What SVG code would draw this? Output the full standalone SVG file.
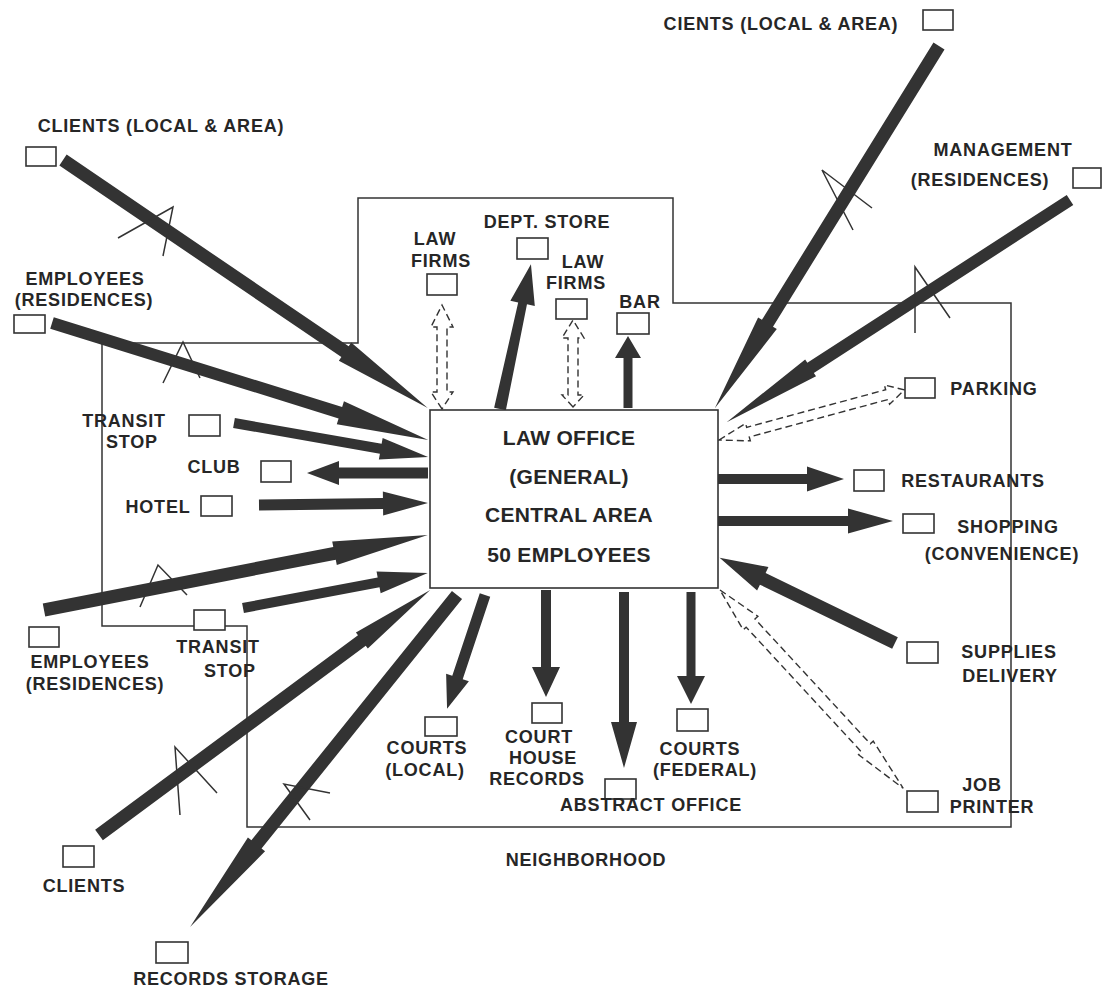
<svg xmlns="http://www.w3.org/2000/svg" width="1102" height="989" viewBox="0 0 1102 989">
<style>
.lbl{font-family:"Liberation Sans",Arial,sans-serif;font-weight:bold;font-size:18px;letter-spacing:0.8px;fill:#262626;text-anchor:middle}
.big{font-size:21px;letter-spacing:0.3px}
.box{fill:#fff;stroke:#333;stroke-width:1.6}
.arr{fill:#333}
.dash{fill:#fff;stroke:#333;stroke-width:1.4;stroke-dasharray:7 4}
.pen{fill:none;stroke:#333;stroke-width:1.5}
.hood{fill:none;stroke:#333;stroke-width:1.5}
</style>
<rect width="1102" height="989" fill="#fff"/>
<polygon id="neighborhood-outline" class="hood" points="358,198 673,198 673,303 1011,303 1011,827 247,827 247,626 102,626 102,343 358,343"/>
<g id="connectors">
<path class="arr" transform="translate(63,160) rotate(34.2)" d="M0,-6.5 L341,-6.5 L341,-11 L441,0 L341,11 L341,6.5 L0,6.5Z"/>
<path class="arr" transform="translate(52,323) rotate(17.28)" d="M0,-6 L302,-6 L302,-12 L394,0 L302,12 L302,6 L0,6Z"/>
<path class="arr" transform="translate(234,423) rotate(9.94)" d="M0,-5 L149,-5 L149,-11 L197,0 L149,11 L149,5 L0,5Z"/>
<path class="arr" transform="translate(428,473) rotate(180)" d="M0,-5.5 L89,-5.5 L89,-12 L121,0 L89,12 L89,5.5 L0,5.5Z"/>
<path class="arr" transform="translate(259,505) rotate(-0.68)" d="M0,-5.5 L124,-5.5 L124,-12 L169,0 L124,12 L124,5.5 L0,5.5Z"/>
<path class="arr" transform="translate(44,610) rotate(-11.05)" d="M0,-6.5 L296,-6.5 L296,-12 L391,0 L296,12 L296,6.5 L0,6.5Z"/>
<path class="arr" transform="translate(243,608) rotate(-10.71)" d="M0,-5 L138,-5 L138,-11 L188,0 L138,11 L138,5 L0,5Z"/>
<path class="arr" transform="translate(99,835) rotate(-36.5)" d="M0,-6.5 L327,-6.5 L327,-10 L412,0 L327,10 L327,6.5 L0,6.5Z"/>
<path class="arr" transform="translate(457,595) rotate(128.8)" d="M0,-6.5 L320,-6.5 L320,-11 L426,0 L320,11 L320,6.5 L0,6.5Z"/>
<path class="arr" transform="translate(485,595) rotate(108.43)" d="M0,-5.5 L87,-5.5 L87,-12 L120,0 L87,12 L87,5.5 L0,5.5Z"/>
<path class="arr" transform="translate(546,590) rotate(90)" d="M0,-5 L77,-5 L77,-14 L107,0 L77,14 L77,5 L0,5Z"/>
<path class="arr" transform="translate(624,592) rotate(90)" d="M0,-5 L130,-5 L130,-13 L176,0 L130,13 L130,5 L0,5Z"/>
<path class="arr" transform="translate(691,592) rotate(90)" d="M0,-4.5 L84,-4.5 L84,-14 L112,0 L84,14 L84,4.5 L0,4.5Z"/>
<path class="arr" transform="translate(895,643) rotate(-154.1)" d="M0,-6.5 L147,-6.5 L147,-13 L195,0 L147,13 L147,6.5 L0,6.5Z"/>
<path class="arr" transform="translate(718,521)" d="M0,-5 L130,-5 L130,-12.5 L175,0 L130,12.5 L130,5 L0,5Z"/>
<path class="arr" transform="translate(718,479)" d="M0,-5 L89,-5 L89,-12.5 L126,0 L89,12.5 L89,5 L0,5Z"/>
<path class="arr" transform="translate(1070,200) rotate(147.09)" d="M0,-6 L309,-6 L309,-10 L409,0 L309,10 L309,6 L0,6Z"/>
<path class="arr" transform="translate(939,46) rotate(121.75)" d="M0,-6.5 L326,-6.5 L326,-11 L426,0 L326,11 L326,6.5 L0,6.5Z"/>
<path class="arr" transform="translate(628,408) rotate(-90)" d="M0,-4.5 L50,-4.5 L50,-13 L72,0 L50,13 L50,4.5 L0,4.5Z"/>
<path class="arr" transform="translate(500,409) rotate(-77.93)" d="M0,-6 L108,-4.5 L108,-12.5 L148,0 L108,12.5 L108,4.5 L0,6Z"/>
<path class="dash" transform="translate(442,409) rotate(-90)" d="M0,0 L17,-11 L17,-5 L82,-5 L82,-11 L104,0 L82,11 L82,5 L17,5 L17,11Z"/>
<path class="dash" transform="translate(573,407) rotate(-90)" d="M0,0 L12,-11 L12,-5 L69,-5 L69,-11 L87,0 L69,11 L69,5 L12,5 L12,11Z"/>
<path class="dash" transform="translate(719,440) rotate(-15.12)" d="M0,0 L30,-9 L30,-5 L174,-5 L174,-10 L192,0 L174,10 L174,5 L30,5 L30,9Z"/>
<path class="dash" transform="translate(720,590) rotate(47.26)" d="M0,0 L45,-10 L45,-6 L215,-6 L215,-10 L270,0 L215,10 L215,6 L45,6 L45,10Z"/>
<polyline class="pen" points="118,238 173,207 163,256"/>
<polyline class="pen" points="163,383 183,342 200,378"/>
<polyline class="pen" points="140,607 158,565 187,595"/>
<polyline class="pen" points="180,815 175,747 217,793"/>
<polyline class="pen" points="330,793 284,784 310,820"/>
<polyline class="pen" points="872,208 822,170 853,230"/>
<polyline class="pen" points="915,333 915,267 950,318"/>
</g>
<g id="law-office">
<rect class="box" x="430" y="410" width="288" height="178"/>
<text class="lbl big" x="569" y="445">LAW OFFICE</text>
<text class="lbl big" x="569" y="484">(GENERAL)</text>
<text class="lbl big" x="569" y="522">CENTRAL AREA</text>
<text class="lbl big" x="569" y="562">50 EMPLOYEES</text>
</g>
<g id="clients-tl"><rect class="box" x="26" y="147" width="30" height="19"/><text class="lbl" x="161" y="132">CLIENTS (LOCAL &amp; AREA)</text></g>
<g id="employees-tl"><rect class="box" x="14" y="315" width="31" height="18"/><text class="lbl" x="85" y="285">EMPLOYEES</text><text class="lbl" x="84" y="306">(RESIDENCES)</text></g>
<g id="clients-tr"><rect class="box" x="923" y="10" width="30" height="20"/><text class="lbl" x="781" y="30">CIENTS (LOCAL &amp; AREA)</text></g>
<g id="management"><rect class="box" x="1073" y="168" width="28" height="20"/><text class="lbl" x="1003" y="156">MANAGEMENT</text><text class="lbl" x="980" y="186">(RESIDENCES)</text></g>
<g id="law-firms-left"><rect class="box" x="427" y="274" width="30" height="21"/><text class="lbl" x="435" y="245">LAW</text><text class="lbl" x="441" y="267">FIRMS</text></g>
<g id="dept-store"><rect class="box" x="517" y="238" width="31" height="21"/><text class="lbl" x="547" y="228">DEPT. STORE</text></g>
<g id="law-firms-right"><rect class="box" x="556" y="299" width="31" height="20"/><text class="lbl" x="583" y="268">LAW</text><text class="lbl" x="576" y="289">FIRMS</text></g>
<g id="bar"><rect class="box" x="617" y="313" width="32" height="21"/><text class="lbl" x="640" y="308">BAR</text></g>
<g id="parking"><rect class="box" x="905" y="378" width="30" height="20"/><text class="lbl" x="994" y="395">PARKING</text></g>
<g id="restaurants"><rect class="box" x="854" y="470" width="30" height="21"/><text class="lbl" x="973" y="487">RESTAURANTS</text></g>
<g id="shopping"><rect class="box" x="903" y="514" width="31" height="19"/><text class="lbl" x="1008" y="533">SHOPPING</text><text class="lbl" x="1002" y="560">(CONVENIENCE)</text></g>
<g id="supplies"><rect class="box" x="907" y="642" width="31" height="21"/><text class="lbl" x="1009" y="658">SUPPLIES</text><text class="lbl" x="1010" y="682">DELIVERY</text></g>
<g id="job-printer"><rect class="box" x="907" y="791" width="31" height="21"/><text class="lbl" x="982" y="791">JOB</text><text class="lbl" x="992" y="813">PRINTER</text></g>
<g id="transit-upper"><rect class="box" x="189" y="415" width="31" height="21"/><text class="lbl" x="124" y="427">TRANSIT</text><text class="lbl" x="132" y="448">STOP</text></g>
<g id="club"><rect class="box" x="261" y="461" width="30" height="21"/><text class="lbl" x="214" y="473">CLUB</text></g>
<g id="hotel"><rect class="box" x="201" y="496" width="31" height="20"/><text class="lbl" x="158" y="513">HOTEL</text></g>
<g id="transit-lower"><rect class="box" x="194" y="610" width="31" height="20"/><text class="lbl" x="218" y="653">TRANSIT</text><text class="lbl" x="230" y="677">STOP</text></g>
<g id="employees-lower"><rect class="box" x="29" y="627" width="30" height="20"/><text class="lbl" x="90" y="668">EMPLOYEES</text><text class="lbl" x="95" y="690">(RESIDENCES)</text></g>
<g id="clients-lower"><rect class="box" x="63" y="846" width="31" height="21"/><text class="lbl" x="84" y="892">CLIENTS</text></g>
<g id="records-storage"><rect class="box" x="156" y="942" width="32" height="21"/><text class="lbl" x="231" y="985">RECORDS STORAGE</text></g>
<g id="courts-local"><rect class="box" x="425" y="717" width="32" height="19"/><text class="lbl" x="427" y="754">COURTS</text><text class="lbl" x="425" y="776">(LOCAL)</text></g>
<g id="court-house-records"><rect class="box" x="532" y="703" width="30" height="20"/><text class="lbl" x="539" y="743">COURT</text><text class="lbl" x="543" y="764">HOUSE</text><text class="lbl" x="537" y="785">RECORDS</text></g>
<g id="abstract-office"><rect class="box" x="605" y="779" width="31" height="20"/><text class="lbl" x="651" y="811">ABSTRACT OFFICE</text></g>
<g id="courts-federal"><rect class="box" x="677" y="709" width="31" height="22"/><text class="lbl" x="700" y="755">COURTS</text><text class="lbl" x="705" y="776">(FEDERAL)</text></g>
<g id="neighborhood"><text class="lbl" x="586" y="866">NEIGHBORHOOD</text></g>
</svg>
